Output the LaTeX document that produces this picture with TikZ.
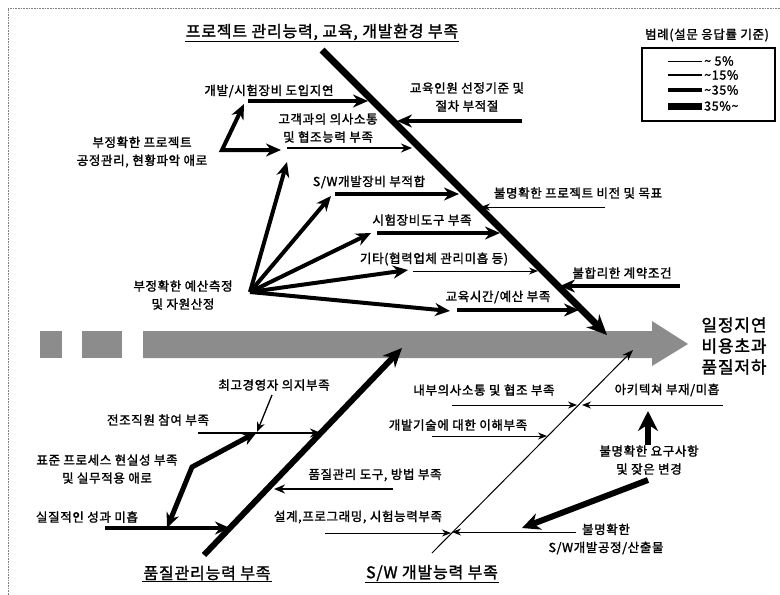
\documentclass[tikz,border=0pt]{standalone}
\usepackage{fontspec}
\setmainfont{Noto Sans CJK KR}
\newfontfamily\kr[LetterSpace=5, FakeBold=1.6]{Noto Sans CJK KR}
\usetikzlibrary{arrows.meta}
\begin{document}
\begin{tikzpicture}[x=1pt,y=-1pt,
  lbl/.style={font=\kr\fontsize{12.5}{18}\selectfont, inner sep=1pt, align=center},
  ttl/.style={font=\kr\fontsize{16}{19}\selectfont, inner sep=1pt},
  a1/.style={line width=1pt, -{Stealth[length=9pt,width=7pt]}},
  a2/.style={line width=1.8pt, -{Stealth[length=11pt,width=9pt]}},
  a4/.style={line width=4pt, -{Stealth[length=15pt,width=13pt]}},
  a4b/.style={line width=4pt, line join=miter, {Stealth[length=15pt,width=13pt]}-{Stealth[length=15pt,width=13pt]}},
  a6/.style={line width=6pt, -{Stealth[length=18pt,width=17pt]}},
  bone/.style={line width=7pt, -{Stealth[length=20pt,width=18pt]}},
  spine/.style={fill=black!45, draw=none},
]
\useasboundingbox (0,0) rectangle (780,595);
% frame
\draw[black!50, densely dotted, line width=0.6pt] (8,595) -- (8,8) -- (780,8);

% spine
\fill[spine] (40,331) rectangle (62,358);
\fill[spine] (82,331) rectangle (122,358);
\fill[spine] (143,331) -- (652,331) -- (652,321) -- (688,344) -- (652,366) -- (652,358) -- (143,358) -- cycle;
\node[font=\kr\fontsize{17}{21}\selectfont, align=left, inner sep=0pt] (eff) at (734,346) {일정지연\\비용초과\\품질저하};

% titles
\node[ttl] (t1) at (322,32) {프로젝트 관리능력, 교육, 개발환경 부족};
\draw[line width=1pt] (t1.south west) -- (t1.south east);
\node[ttl] (t2) at (207,573) {품질관리능력 부족};
\draw[line width=1pt] (t2.south west) -- (t2.south east);
\node[ttl] (t3) at (432,573) {S/W 개발능력 부족};
\draw[line width=1pt] (t3.south west) -- (t3.south east);

% legend
\node[lbl] (lg) at (707,35) {범례(설문 응답률 기준)};
\draw[line width=1.2pt] (642,48) rectangle (775,121);
\coordinate (g1a) at (668,61); \coordinate (g1b) at (702,61);
\coordinate (g2a) at (668,75); \coordinate (g2b) at (702,75);
\coordinate (g3a) at (668,90); \coordinate (g3b) at (702,90);
\coordinate (g4a) at (668,106); \coordinate (g4b) at (702,106);
\draw[line width=0.8pt] (g1a) -- (g1b);
\draw[line width=2pt] (g2a) -- (g2b);
\draw[line width=4pt] (g3a) -- (g3b);
\draw[line width=7pt] (g4a) -- (g4b);
\node[lbl, anchor=west] (lg1) at (703,61) {\textasciitilde\ 5\%};
\node[lbl, anchor=west] (lg2) at (703,75) {\textasciitilde 15\%};
\node[lbl, anchor=west] (lg3) at (703,90) {\textasciitilde 35\%};
\node[lbl, anchor=west] (lg4) at (703,106) {35\%\textasciitilde};

% main bones
\coordinate (b1s) at (322,50); \coordinate (b1e) at (607,335);
\coordinate (b2s) at (204,555); \coordinate (b2e) at (402,348);
\coordinate (b3s) at (432,553); \coordinate (b3e) at (633,350);
\draw[bone] (b1s) -- (b1e);
\draw[line width=6pt, -{Stealth[length=19pt,width=17pt]}] (b2s) -- (b2e);
\draw[line width=1pt, -{Stealth[length=11pt,width=8pt]}] (b3s) -- (b3e);

% ---- top-left branches
\node[lbl] (L1) at (269,91) {개발/시험장비 도입지연};
\coordinate (p1) at (248,101); \coordinate (q1) at (368,101);
\draw[a4] (p1) -- (q1);

\node[lbl] (L2) at (142,152) {부정확한 프로젝트\\공정관리, 현황파악 애로};
\coordinate (v2) at (222,150); \coordinate (u2) at (244,104); \coordinate (r2) at (281,150);
\draw[a4b] (u2) -- (v2) -- (r2);

\node[lbl] (L3) at (328,128) {고객과의 의사소통\\및 협조능력 부족};
\coordinate (p3) at (287,148); \coordinate (q3) at (412,148);
\draw[a2] (p3) -- (q3);

\node[lbl] (L4) at (467,97) {교육인원 선정기준 및\\절차 부적절};
\coordinate (p4) at (522,121); \coordinate (q4) at (397,121);
\draw[a4] (p4) -- (q4);

\node[lbl] (L5) at (369,182) {S/W개발장비 부적합};
\coordinate (p5) at (335,194); \coordinate (q5) at (459,194);
\draw[a4] (p5) -- (q5);

\node[lbl] (L6) at (422,220) {시험장비도구 부족};
\coordinate (p6) at (377,233); \coordinate (q6) at (500,233);
\draw[a4] (p6) -- (q6);

\node[lbl] (L7) at (434,259) {기타(협력업체 관리미흡 등)};
\coordinate (p7) at (413,271); \coordinate (q7) at (538,271);
\draw[a1] (p7) -- (q7);

\node[lbl] (L8) at (498,297) {교육시간/예산 부족};
\coordinate (p8) at (457,310); \coordinate (q8) at (579,310);
\draw[a4] (p8) -- (q8);

\node[lbl] (L9) at (578,193) {불명확한 프로젝트 비전 및 목표};
\coordinate (p9) at (605,207); \coordinate (q9) at (481,207);
\draw[a1] (p9) -- (q9);

\node[lbl] (L10) at (622,273) {불합리한 계약조건};
\coordinate (p10) at (680,286); \coordinate (q10) at (560,286);
\draw[a4] (p10) -- (q10);

\node[lbl] (L11) at (183,295) {부정확한 예산측정\\및 자원산정};
\coordinate (hub) at (250,292);
\draw[a4] (hub) -- (287,162);
\draw[a4] (hub) -- (331,196);
\draw[a4] (hub) -- (371,233);
\draw[a4] (hub) -- (408,270);
\draw[a4] (hub) -- (450,311);

% ---- bottom-left branches
\node[lbl] (L12) at (274,385) {최고경영자 의지부족};
\coordinate (p12) at (272,395); \coordinate (j12) at (257,432);
\draw[line width=1.3pt, -{Stealth[length=10pt,width=8pt]}] (p12) -- (j12);

\node[lbl] (L13) at (158,420) {전조직원 참여 부족};
\coordinate (p13) at (198,433); \coordinate (q13) at (321,433);
\draw[a2] (p13) -- (q13);

\node[lbl] (L14) at (107,469) {표준 프로세스 현실성 부족\\및 실무적용 애로};
\coordinate (v14) at (192,467); \coordinate (d14) at (167,528);
\draw[a4b, line width=5pt] (j12) -- (v14) -- (d14);

\node[lbl] (L15) at (87,517) {실질적인 성과 미흡};
\coordinate (p15) at (105,528); \coordinate (q15) at (230,528);
\draw[a4] (p15) -- (q15);

\node[lbl] (L16) at (375,475) {품질관리 도구, 방법 부족};
\coordinate (p16) at (393,489); \coordinate (q16) at (274,489);
\draw[a2] (p16) -- (q16);

% ---- bottom-right branches
\node[lbl] (L17) at (358,517) {설계,프로그래밍, 시험능력부족};
\coordinate (p17) at (325,533); \coordinate (q17) at (451,533);
\draw[a1] (p17) -- (q17);

\node[lbl] (L18) at (484,390) {내부의사소통 및 협조 부족};
\coordinate (p18) at (452,405); \coordinate (q18) at (577,405);
\draw[a1] (p18) -- (q18);

\node[lbl] (L19) at (667,390) {아키텍쳐 부재/미흡};
\coordinate (p19) at (723,405); \coordinate (q19) at (582,405);
\draw[a1] (p19) -- (q19);

\node[lbl] (L20) at (458,425) {개발기술에 대한 이해부족};
\coordinate (p20) at (432,436); \coordinate (q20) at (547,436);
\draw[a1] (p20) -- (q20);

\node[lbl] (L21) at (649,460) {불명확한 요구사항\\및 잦은 변경};
\coordinate (p21) at (648,445); \coordinate (q21) at (648,411);
\draw[line width=6pt, -{Stealth[length=20pt,width=20pt]}] (p21) -- (q21);
\coordinate (s21) at (648,480); \coordinate (e21) at (522,528);
\draw[a6] (s21) -- (e21);

\node[lbl] (L22) at (606,539) {불명확한\\S/W개발공정/산출물};
\coordinate (p22) at (576,532); \coordinate (q22) at (452,532);
\draw[a1] (p22) -- (q22);
\end{tikzpicture}
\end{document}
